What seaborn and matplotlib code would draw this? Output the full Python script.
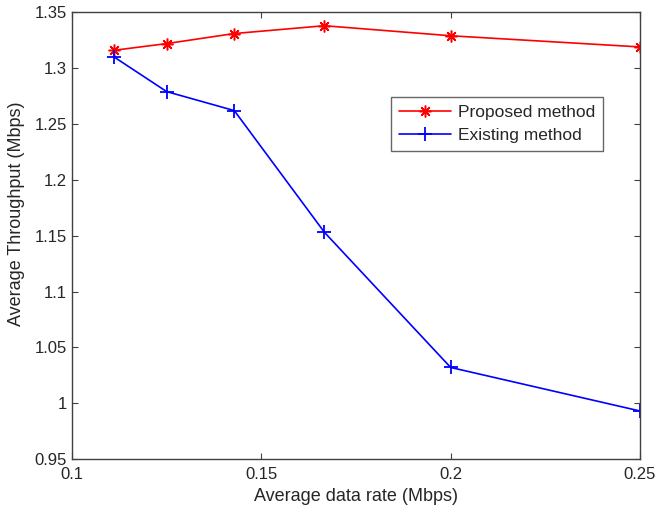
import numpy as np
import pandas as pd
import matplotlib
matplotlib.use("Agg")
import matplotlib.pyplot as plt
from matplotlib.ticker import FuncFormatter
import seaborn as sns

# data
data_rate = [1/9, 1/8, 1/7, 1/6, 1/5, 1/4]
proposed = [1.316, 1.322, 1.331, 1.338, 1.329, 1.319]
existing = [1.310, 1.279, 1.262, 1.153, 1.032, 0.993]
methods = ["Proposed method", "Existing method"]
x_ticks = [0.1, 0.15, 0.2, 0.25]
y_ticks = [0.95, 1.0, 1.05, 1.1, 1.15, 1.2, 1.25, 1.3, 1.35]

sns.set_style("ticks")
plt.rcParams["font.family"] = ["Liberation Sans", "DejaVu Sans"]

fig = plt.figure(figsize=(6.57, 5.09), dpi=100)
ax = fig.add_axes([0.1096, 0.0982, 0.8645, 0.8776])

# one call per series: asterisk and '+' can't share a style mapping
sns.lineplot(x=data_rate, y=proposed, color="#ff0000", marker=(8, 2, 0),
             markersize=8.5, markeredgewidth=1.1, markeredgecolor="#ff0000",
             linewidth=1.2, label=methods[0], ax=ax)
sns.lineplot(x=data_rate, y=existing, color="#0000ff", marker="+",
             markersize=10, markeredgewidth=1.3, markeredgecolor="#0000ff",
             linewidth=1.2, label=methods[1], ax=ax)

ax.set_xlim(0.1, 0.25)
ax.set_ylim(0.95, 1.35)
ax.set_xticks(x_ticks)
ax.set_yticks(y_ticks)
ax.xaxis.set_major_formatter(FuncFormatter(lambda v, p: "%g" % v))
ax.yaxis.set_major_formatter(FuncFormatter(lambda v, p: "%g" % v))
ax.tick_params(direction="in", top=True, right=True, labelsize=12, length=4.5,
               color="#404040")
ax.tick_params(axis="x", pad=6)
ax.tick_params(axis="y", pad=3.5)
for s in ax.spines.values():
    s.set_color("#404040")
    s.set_linewidth(1.0)

ax.set_xlabel("Average data rate (Mbps)", fontsize=13)
ax.set_ylabel("Average Throughput (Mbps)", fontsize=13)
ax.xaxis.set_label_coords(0.5, -0.065)
ax.yaxis.set_label_coords(-0.083, 0.548)

leg = ax.legend(loc="upper right", bbox_to_anchor=(0.935, 0.810), borderaxespad=0,
                fontsize=12.5, frameon=True, fancybox=False, edgecolor="#404040",
                handlelength=3.0, borderpad=0.45, labelspacing=0.45,
                handletextpad=0.4)
leg.get_frame().set_linewidth(1.0)

fig.savefig("out.png", dpi=100)
